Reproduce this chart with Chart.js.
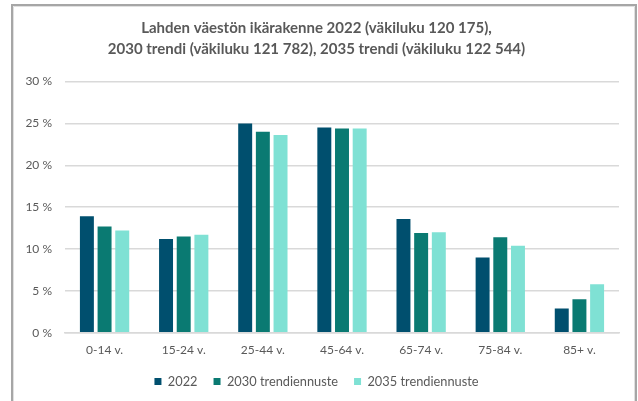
<!DOCTYPE html>
<html>
<head>
<meta charset="utf-8">
<script src="https://cdn.jsdelivr.net/npm/chart.js@4"></script>
<style>
  html, body { margin: 0; padding: 0; background: #ffffff; }
  #wrap { position: absolute; left: 0; top: 0; width: 638px; height: 401px; }
</style>
</head>
<body>
<div id="wrap"><canvas id="c" width="638" height="401"></canvas></div>
<script>
const categories = ['0-14 v.', '15-24 v.', '25-44 v.', '45-64 v.', '65-74 v.', '75-84 v.', '85+ v.'];
const seriesNames = ['2022', '2030 trendiennuste', '2035 trendiennuste'];
const values2022 = [13.9, 11.2, 25.0, 24.5, 13.6, 9.0, 2.9];
const values2030 = [12.7, 11.5, 24.0, 24.4, 11.9, 11.4, 4.0];
const values2035 = [12.2, 11.7, 23.6, 24.4, 12.0, 10.4, 5.8];
const titleLines = ['Lahden väestön ikärakenne 2022 (väkiluku 120 175),', '2030 trendi (väkiluku 121 782), 2035 trendi (väkiluku 122 544)'];
const yTicks = [0, 5, 10, 15, 20, 25, 30];

const colors = ['#004f6e', '#0a7a72', '#7fe1d4'];
const textColor = '#595959';
const fontFamily = "Lato, 'Open Sans', sans-serif";

const framePlugin = {
  id: 'frame',
  afterDraw(chart) {
    const ctx = chart.ctx;
    ctx.save();
    ctx.strokeStyle = '#a6a6a6';
    ctx.lineWidth = 2;
    ctx.beginPath();
    ctx.moveTo(12, 410);
    ctx.lineTo(12, 5);
    ctx.lineTo(636, 5);
    ctx.lineTo(636, 410);
    ctx.stroke();
    ctx.strokeStyle = '#e0e0e0';
    ctx.lineWidth = 1;
    ctx.beginPath();
    ctx.moveTo(13.5, 410);
    ctx.lineTo(13.5, 6.5);
    ctx.lineTo(634.5, 6.5);
    ctx.lineTo(634.5, 410);
    ctx.stroke();
    ctx.restore();
  }
};

const datasets = [values2022, values2030, values2035].map((vals, i) => ({
  label: seriesNames[i],
  data: vals,
  backgroundColor: colors[i],
  borderWidth: 0,
  categoryPercentage: 0.67,
  barPercentage: 0.79
}));

new Chart(document.getElementById('c'), {
  type: 'bar',
  data: { labels: categories, datasets },
  options: {
    responsive: false,
    animation: false,
    devicePixelRatio: 1,
    layout: { padding: { left: 14, right: 19, top: 0, bottom: 3 } },
    plugins: {
      title: {
        display: true,
        text: titleLines,
        color: textColor,
        font: { family: fontFamily, size: 15, weight: 'bold', lineHeight: 1.45 },
        padding: { top: 17, bottom: 21 }
      },
      legend: {
        position: 'bottom',
        labels: {
          color: textColor,
          font: { family: fontFamily, size: 12.8 },
          boxWidth: 7,
          boxHeight: 7,
          padding: 16
        }
      },
      tooltip: { enabled: false }
    },
    scales: {
      x: {
        afterFit(scale) { scale.height -= 8; },
        grid: { display: false, drawTicks: false },
        border: { display: true, color: '#d9d9d9', width: 1.5 },
        ticks: { color: textColor, font: { family: fontFamily, size: 12 }, padding: 10 }
      },
      y: {
        min: 0,
        max: 30,
        afterFit(scale) { scale.width = 51; },
        afterBuildTicks(scale) { scale.ticks = yTicks.map(v => ({ value: v })); },
        grid: { color: '#d9d9d9', lineWidth: 1.5, drawTicks: false },
        border: { display: false },
        ticks: {
          color: textColor,
          font: { family: fontFamily, size: 12 },
          padding: 13,
          callback: v => v + ' %'
        }
      }
    }
  },
  plugins: [framePlugin]
});
</script>
</body>
</html>
